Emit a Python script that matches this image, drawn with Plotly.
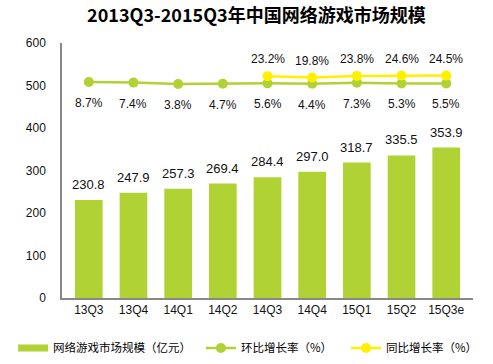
import plotly.graph_objects as go

categories = ["13Q3", "13Q4", "14Q1", "14Q2", "14Q3", "14Q4", "15Q1", "15Q2", "15Q3e"]
market_size = [230.8, 247.9, 257.3, 269.4, 284.4, 297.0, 318.7, 335.5, 353.9]
qoq_growth = [8.7, 7.4, 3.8, 4.7, 5.6, 4.4, 7.3, 5.3, 5.5]
yoy_growth = [None, None, None, None, 23.2, 19.8, 23.8, 24.6, 24.5]
y_ticks = [0, 100, 200, 300, 400, 500, 600]
series_names = ["网络游戏市场规模（亿元）", "环比增长率（%）", "同比增长率（%）"]

GREEN = "#B1D234"
YELLOW = "#FFF000"
NUM_FONT = "Liberation Sans, DejaVu Sans, sans-serif"
CJK_FONT = "Noto Sans CJK SC, sans-serif"

fig = go.Figure()
fig.add_trace(go.Bar(
    x=categories, y=market_size, name=series_names[0], showlegend=False,
    marker=dict(color=GREEN, line=dict(width=0)),
))
# legend-only entry to show a wide bar swatch like the original
fig.add_trace(go.Scatter(
    x=[None], y=[None], name=series_names[0], mode="lines",
    line=dict(color=GREEN, width=7), legend="legend",
))
fig.add_trace(go.Scatter(
    x=categories, y=qoq_growth, name=series_names[1], yaxis="y2",
    mode="lines+markers", line=dict(color=GREEN, width=2.5),
    marker=dict(color=GREEN, size=10), legend="legend2",
))
fig.add_trace(go.Scatter(
    x=categories, y=yoy_growth, name=series_names[2], yaxis="y2",
    mode="lines+markers", line=dict(color=YELLOW, width=2.5),
    marker=dict(color=YELLOW, size=10), connectgaps=False, legend="legend3",
))

annotations = []
for c, v in zip(categories, market_size):
    annotations.append(dict(x=c, y=v, xref="x", yref="y", text=f"{v:.1f}",
                            showarrow=False, yanchor="bottom", yshift=6,
                            font=dict(size=13, color="#111", family=NUM_FONT)))
for c, v in zip(categories, qoq_growth):
    annotations.append(dict(x=c, y=v, xref="x", yref="y2", text=f"{v:.1f}%",
                            showarrow=False, yanchor="middle", yshift=-21,
                            font=dict(size=12, color="#111", family=NUM_FONT)))
for c, v in zip(categories, yoy_growth):
    if v is None:
        continue
    annotations.append(dict(x=c, y=v, xref="x", yref="y2", text=f"{v:.1f}%",
                            showarrow=False, yanchor="middle", yshift=17,
                            font=dict(size=12, color="#111", family=NUM_FONT)))

legend_common = dict(orientation="h", xanchor="left", y=-0.196, yanchor="middle",
                     font=dict(size=11.5, color="#000", family=CJK_FONT),
                     itemwidth=30, bgcolor="rgba(0,0,0,0)")

fig.update_layout(
    width=493, height=364,
    margin=dict(l=62, r=20, t=43, b=66, autoexpand=False),
    paper_bgcolor="white", plot_bgcolor="white",
    title=dict(text="<b>2013Q3-2015Q3年中国网络游戏市场规模</b>",
               x=0.52, xanchor="center", y=0.958, yanchor="middle",
               font=dict(size=18, color="#000", family=CJK_FONT)),
    bargap=0.38,
    showlegend=True,
    legend=dict(x=-0.119, **legend_common),
    legend2=dict(x=0.338, **legend_common),
    legend3=dict(x=0.691, **legend_common),
    xaxis=dict(showline=True, linecolor="#888", linewidth=1.5, ticks="",
               showgrid=False, tickfont=dict(size=12, color="#111", family=NUM_FONT)),
    yaxis=dict(range=[0, 600], tickvals=y_ticks, showline=True, linecolor="#888",
               linewidth=1.5, showgrid=False, zeroline=False, ticks="",
               ticklabelstandoff=12,
               tickfont=dict(size=12, color="#111", family=NUM_FONT)),
    yaxis2=dict(overlaying="y", side="right", range=[-518, 104], visible=False,
                showgrid=False, zeroline=False),
    annotations=annotations,
)

fig.write_html("out.html", config={"displayModeBar": False},
               post_script="document.body.style.margin='0';")
